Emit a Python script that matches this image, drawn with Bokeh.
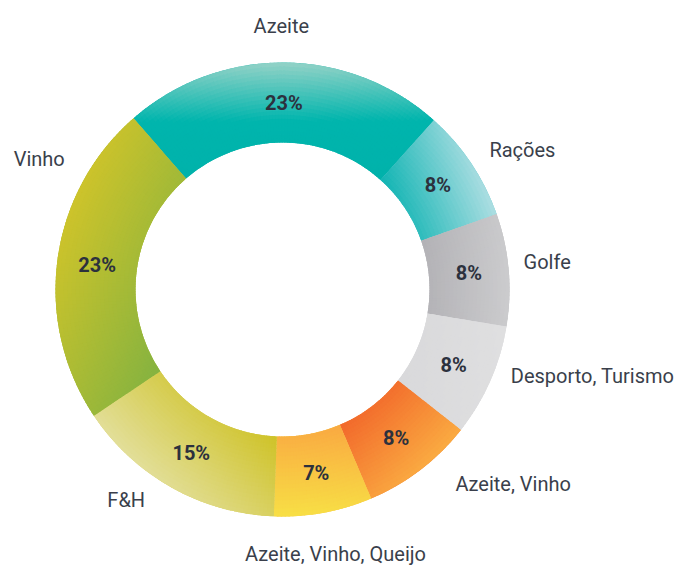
import math
import numpy as np
from bokeh.plotting import figure
from bokeh.models import ColumnDataSource, Range1d
from bokeh.core.properties import value
from bokeh.embed import file_html
from bokeh.resources import INLINE

# ---------------- data ----------------
categories = ["Azeite", "Rações", "Golfe", "Desporto, Turismo",
              "Azeite, Vinho", "Azeite, Vinho, Queijo", "F&H", "Vinho"]
shares = [23, 8, 8, 8, 8, 7, 15, 23]
pct_labels = ["23%", "8%", "8%", "8%", "8%", "7%", "15%", "23%"]

# ---------------- styles / layout ----------------
W, H = 677, 567
CX, CY = 282, H - 289          # donut centre (data units == pixels)
R_OUT, R_IN = 227, 147
START = -41.0                   # degrees, clockwise from 12 o'clock
R_PCT = 187
R_LAB = 255

# gradient: direction in screen coords (x right, y down) and colour stops
grads = [
    ((0, -1), [(0.0, "#00b2ab"), (0.5, "#00b5ad"), (1.0, "#8ed1c6")]),
    ((1, -0.35), [(0.0, "#14b5b4"), (1.0, "#a9dde1")]),
    ((1, 0), [(0.0, "#b3b2b6"), (1.0, "#cbcbcd")]),
    ((1, 0), [(0.0, "#d9d9db"), (1.0, "#dfdfe0")]),
    ((1, 1), [(0.0, "#f26a2c"), (1.0, "#faa941")]),
    ((0, 1), [(0.0, "#f9aa42"), (1.0, "#f8de45")]),
    ((-1, 1), [(0.0, "#cfc329"), (1.0, "#e2de97")]),
    ((1, 0.45), [(0.0, "#ccc32b"), (1.0, "#86b340")]),
]
base_colors = ["#22b9b1", "#5cc7c9", "#bfbfc1", "#dcdcde",
               "#f6893a", "#f8c443", "#d8cf5c", "#a8bb36"]
label_nudge = [(-3, -9), (-5, 2), (-13, -5), (-5, -16),
               (18, -8), (7, 14), (-13, -12), (35, -97)]


def hex2rgb(h):
    h = h.lstrip("#")
    return [int(h[i:i + 2], 16) for i in (0, 2, 4)]


def interp(stops, t):
    t = min(max(t, 0.0), 1.0)
    for (t0, c0), (t1, c1) in zip(stops[:-1], stops[1:]):
        if t <= t1 or (t1 == stops[-1][0]):
            f = 0 if t1 == t0 else (t - t0) / (t1 - t0)
            f = min(max(f, 0.0), 1.0)
            a, b = hex2rgb(c0), hex2rgb(c1)
            return "#%02x%02x%02x" % tuple(int(round(a[k] + (b[k] - a[k]) * f)) for k in range(3))
    return stops[-1][1]


total = float(sum(shares))
spans = [s / total * 360.0 for s in shares]
starts = [START + sum(spans[:i]) for i in range(len(spans))]
ends = [starts[i] + spans[i] for i in range(len(spans))]
mids = [(a + b) / 2 for a, b in zip(starts, ends)]

p = figure(width=W, height=H, output_backend="svg", toolbar_location=None,
           x_range=Range1d(0, W), y_range=Range1d(0, H),
           x_axis_type=None, y_axis_type=None, min_border=0,
           background_fill_color="white", border_fill_color="white")
p.outline_line_color = None
p.grid.visible = False

# base wedges (one per category)
base = ColumnDataSource(dict(
    x=[CX] * len(shares), y=[CY] * len(shares),
    start=[math.radians(90 - e) for e in ends],
    end=[math.radians(90 - s) for s in starts],
    color=base_colors, cat=categories))
p.annular_wedge(x="x", y="y", inner_radius=R_IN, outer_radius=R_OUT,
                start_angle="start", end_angle="end", source=base,
                fill_color="color", line_color=None)

# gradient overlay cells
cx_, cy_, ir, orr, sa, ea, col = [], [], [], [], [], [], []
NR = 20
for i in range(len(shares)):
    th0, th1 = starts[i], ends[i]
    na = max(2, int(math.ceil((th1 - th0) / 1.0)))
    (dx, dy), stops = grads[i]
    cells = []
    for a in range(na):
        ta = th0 + (th1 - th0) * a / na
        tb = th0 + (th1 - th0) * (a + 1) / na
        tc = math.radians((ta + tb) / 2)
        for r in range(NR):
            ra = R_IN + (R_OUT - R_IN) * r / NR
            rb = R_IN + (R_OUT - R_IN) * (r + 1) / NR
            rc = (ra + rb) / 2
            xs = CX + rc * math.sin(tc)
            ys = (H - CY) - rc * math.cos(tc)
            cells.append((ta, tb, ra, rb, dx * xs + dy * ys))
    pr = [c[4] for c in cells]
    lo, hi = min(pr), max(pr)
    for ta, tb, ra, rb, pj in cells:
        t = (pj - lo) / (hi - lo) if hi > lo else 0.5
        c = interp(stops, t)
        cx_.append(CX); cy_.append(CY)
        ir.append(max(R_IN, ra - 0.3))
        orr.append(rb + 0.3 if rb < R_OUT else rb)
        first = ta == th0
        last = tb == th1
        sa.append(math.radians(90 - tb) - (0 if last else 0.003))
        ea.append(math.radians(90 - ta) + (0 if first else 0.003))
        col.append(c)

cells_src = ColumnDataSource(dict(x=cx_, y=cy_, ir=ir, orr=orr, sa=sa, ea=ea, color=col))
p.annular_wedge(x="x", y="y", inner_radius="ir", outer_radius="orr",
                start_angle="sa", end_angle="ea", source=cells_src,
                fill_color="color", line_color=None)

# percentage labels
px = [CX + R_PCT * math.sin(math.radians(m)) for m in mids]
py = [CY + R_PCT * math.cos(math.radians(m)) for m in mids]
p.text(x=px, y=py, text=pct_labels, text_align="center", text_baseline="middle",
       text_font=value("Roboto"), text_font_style="bold", text_font_size="20px",
       text_color="#2c313d")

# category labels
lx, ly, la = [], [], []
for m, (nx, ny) in zip(mids, label_nudge):
    s = math.sin(math.radians(m))
    lx.append(CX + R_LAB * s + nx)
    ly.append(CY + R_LAB * math.cos(math.radians(m)) - ny)
    la.append("left" if s > 0.3 else ("right" if s < -0.3 else "center"))
lab_src = ColumnDataSource(dict(x=lx, y=ly, text=categories, align=la))
p.text(x="x", y="y", text="text", text_align="align", text_baseline="middle",
       source=lab_src, text_font=value("Roboto"), text_font_size="20px",
       text_color="#3a3f4b")

open("out.html", "w").write(file_html(p, INLINE))
